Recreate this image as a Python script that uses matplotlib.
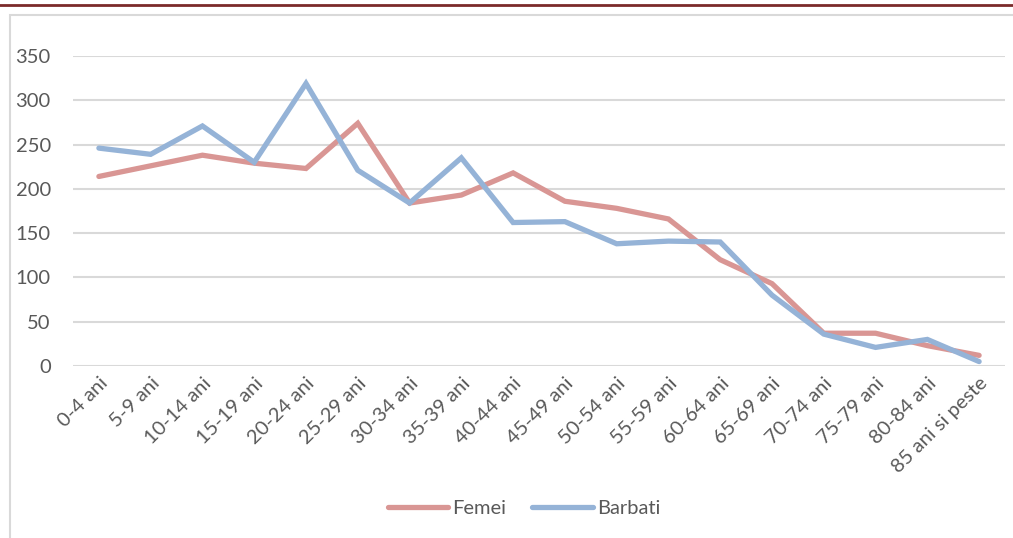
import numpy as np
import matplotlib.pyplot as plt
from matplotlib.patches import Rectangle
from matplotlib.lines import Line2D

# Date: populatie pe grupe de varsta
categorii = ["0-4 ani", "5-9 ani", "10-14 ani", "15-19 ani", "20-24 ani",
             "25-29 ani", "30-34 ani", "35-39 ani", "40-44 ani", "45-49 ani",
             "50-54 ani", "55-59 ani", "60-64 ani", "65-69 ani", "70-74 ani",
             "75-79 ani", "80-84 ani", "85 ani si peste"]
femei = [214, 226, 238, 229, 223, 274, 184, 193, 218, 186,
         178, 166, 120, 93, 37, 37, 23, 12]
barbati = [246, 239, 271, 230, 319, 221, 184, 235, 162, 163,
           138, 141, 140, 80, 36, 21, 30, 5]
y_ticks = [0, 50, 100, 150, 200, 250, 300, 350]

plt.rcParams['font.family'] = ['Lato', 'DejaVu Sans']

W, H = 1013, 538
fig = plt.figure(figsize=(W / 100, H / 100), dpi=100)

# chenarul graficului si linia de antet a documentului
fig.add_artist(Rectangle((10 / W, -0.05), 1.1, 1 - 15 / H + 0.05,
                         transform=fig.transFigure, fill=False,
                         edgecolor='#D9D9D9', linewidth=1.5))
fig.add_artist(Line2D([0, 1], [1 - 5 / H, 1 - 5 / H], transform=fig.transFigure,
                      color='#7B2A2A', linewidth=2))

ax = fig.add_axes([73 / W, 172 / H, 932 / W, 310 / H])
x = np.arange(len(categorii))
ax.plot(x, femei, color='#D99694', linewidth=3.8, label='Femei',
        solid_capstyle='round', solid_joinstyle='miter')
ax.plot(x, barbati, color='#95B3D7', linewidth=3.8, label='Barbati',
        solid_capstyle='round', solid_joinstyle='miter')

ax.set_xlim(-0.5, len(categorii) - 0.5)
ax.set_ylim(0, 350)
ax.set_yticks(y_ticks)
ax.set_xticks(x)
ax.set_xticklabels(categorii, rotation=45, ha='right', rotation_mode='anchor')
ax.grid(axis='y', color='#D9D9D9', linewidth=1.5)
ax.set_axisbelow(True)
for s in ax.spines.values():
    s.set_visible(False)
ax.tick_params(axis='both', length=0, labelsize=14.5, colors='#595959')
ax.tick_params(axis='y', pad=16)
ax.tick_params(axis='x', pad=6)

fig.legend(loc='center', bbox_to_anchor=(524 / W, 1 - 508 / H), ncol=2,
           frameon=False, fontsize=14.5, labelcolor='#595959',
           handlelength=3.0, handletextpad=0.2, columnspacing=1.3)

fig.savefig('out.png', dpi=100)
